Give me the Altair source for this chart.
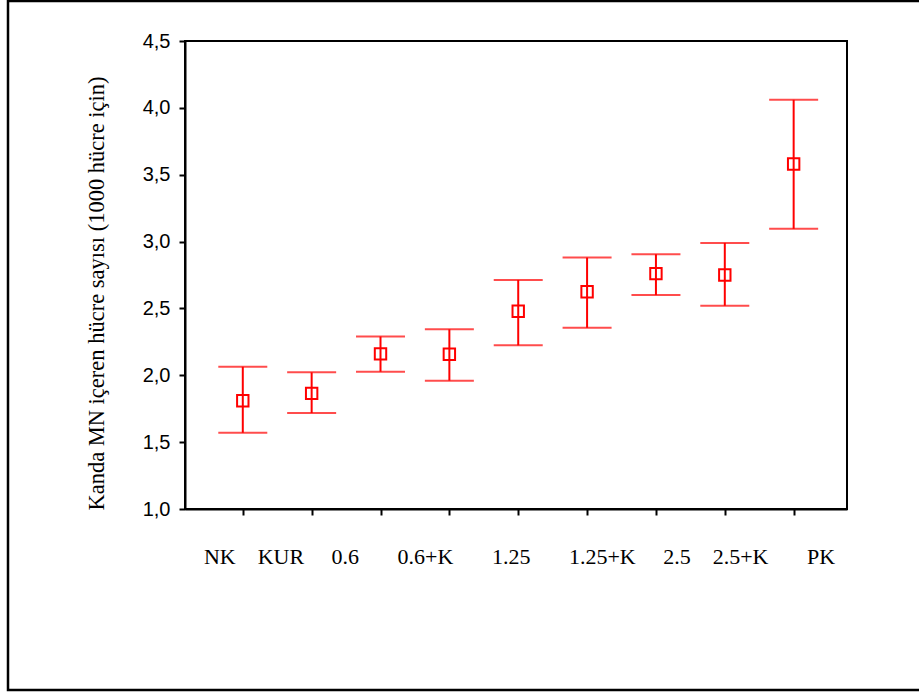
import altair as alt
import pandas as pd

categories = ["NK", "KUR", "0.6", "0.6+K", "1.25", "1.25+K", "2.5", "2.5+K", "PK"]
means = [1.81, 1.865, 2.16, 2.157, 2.479, 2.625, 2.76, 2.75, 3.58]
lowers = [1.57, 1.718, 2.027, 1.96, 2.224, 2.355, 2.60, 2.52, 3.095]
uppers = [2.064, 2.022, 2.29, 2.344, 2.713, 2.88, 2.905, 2.99, 4.06]
y_ticks = [1.0, 1.5, 2.0, 2.5, 3.0, 3.5, 4.0, 4.5]
y_title = "Kanda MN içeren hücre sayısı (1000 hücre için)"
nb = "\u00a0"
x_title = (("NK", 4), ("KUR", 5), ("0.6", 7), ("0.6+K", 7), ("1.25", 7),
           ("1.25+K", 5), ("2.5", 4), ("2.5+K", 7), ("PK", 0))
x_title_text = "".join(w + nb * n for w, n in x_title)

df = pd.DataFrame({"cat": categories, "mean": means, "lo": lowers, "hi": uppers})

RED = "#ff0000"
W, H = 662, 468

xscale = alt.Scale(domain=categories, type="point", padding=0.807, align=0.52)
yscale = alt.Scale(domain=[1.0, 4.5], zero=False, nice=False)

xenc = alt.X("cat:N", scale=xscale, sort=categories,
             axis=alt.Axis(labels=False, title=x_title_text, ticks=True, tickSize=6,
                           tickWidth=2, tickColor="black", domain=True, domainColor="black",
                           domainWidth=2, titleFont="Liberation Serif", titleFontSize=22,
                           titleFontWeight="normal", titleColor="black", titlePadding=30,
                           titleX=334))

yaxis = alt.Axis(values=y_ticks, format=".1f", labelExpr="replace(datum.label, '.', ',')",
                 title=y_title, titleFont="Liberation Serif", titleFontSize=22.5,
                 titleFontWeight="normal", titleColor="black", titleAngle=-90,
                 titleX=-89, titleY=252, titleBaseline="middle", titleAlign="center",
                 labelFont="Liberation Sans", labelFontSize=20, labelColor="black",
                 labelPadding=9, tickSize=6, tickWidth=2, tickColor="black",
                 domainColor="black", domainWidth=2, grid=False)

base = alt.Chart(df)

rule = base.mark_rule(color=RED, strokeWidth=2).encode(
    x=xenc, y=alt.Y("lo:Q", scale=yscale, axis=yaxis), y2="hi:Q")
cap_hi = base.mark_tick(color=RED, size=49, thickness=2).encode(
    x=alt.X("cat:N", scale=xscale, sort=categories), y=alt.Y("hi:Q", scale=yscale))
cap_lo = base.mark_tick(color=RED, size=49, thickness=2).encode(
    x=alt.X("cat:N", scale=xscale, sort=categories), y=alt.Y("lo:Q", scale=yscale))
pts = base.mark_point(shape="square", filled=False, color=RED, size=130, strokeWidth=2,
                      opacity=1).encode(
    x=alt.X("cat:N", scale=xscale, sort=categories), y=alt.Y("mean:Q", scale=yscale))

frame = alt.Chart(pd.DataFrame({"k": [0]})).mark_rect(
    fill=None, stroke="black", strokeWidth=2.5).encode(
    x=alt.value(-177), x2=alt.value(W + 80), y=alt.value(-40), y2=alt.value(649))

chart = alt.layer(frame, rule, cap_hi, cap_lo, pts).properties(
    width=W, height=H,
    autosize=alt.AutoSizeParams(type="none"),
    padding={"left": 185, "top": 41, "right": 72, "bottom": 186},
    background="white",
).configure_view(stroke="black", strokeWidth=2)

chart.save("out.html", embed_options={"renderer": "svg", "actions": False})
